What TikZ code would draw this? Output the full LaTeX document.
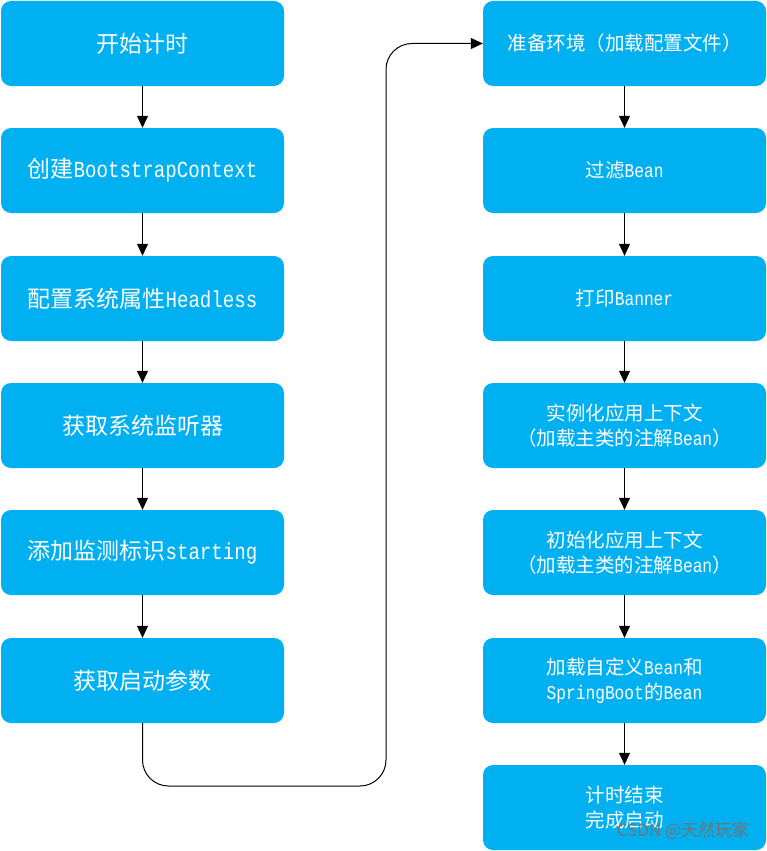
\documentclass[tikz,border=0pt]{standalone}
\usepackage{fontspec}
\setmainfont{Noto Sans CJK SC}
\newfontfamily\lat[FakeStretch=0.833]{Liberation Mono}
\usetikzlibrary{arrows.meta}
\definecolor{boxblue}{RGB}{0,176,240}
\tikzset{
  stepbox/.style={rectangle, rounded corners=10pt, fill=boxblue, text=white,
    minimum width=283pt, minimum height=85pt, inner sep=0pt, align=center},
  bigtext/.style={font=\fontsize{23}{28}\selectfont},
  smalltext/.style={font=\fontsize{19.5}{25}\selectfont},
  conn/.style={line width=1pt, -{Triangle[width=11pt,length=12pt]}}
}
\begin{document}
\begin{tikzpicture}[x=1pt,y=-1pt]
\useasboundingbox (0,0) rectangle (767,851);
% left column
\node[stepbox,bigtext] (l1) at (142.5,43.5) {开始计时};
\node[stepbox,bigtext] (l2) at (142.5,170.5) {创建{\lat BootstrapContext}};
\node[stepbox,bigtext] (l3) at (142.5,298.5) {配置系统属性{\lat Headless}};
\node[stepbox,bigtext] (l4) at (142.5,425.5) {获取系统监听器};
\node[stepbox,bigtext] (l5) at (142.5,552.5) {添加监测标识{\lat starting}};
\node[stepbox,bigtext] (l6) at (142.5,680.5) {获取启动参数};
% right column
\node[stepbox,smalltext] (r1) at (624.5,43.5) {准备环境（加载配置文件）};
\node[stepbox,smalltext] (r2) at (624.5,170.5) {过滤{\lat Bean}};
\node[stepbox,smalltext] (r3) at (624.5,298.5) {打印{\lat Banner}};
\node[stepbox,smalltext] (r4) at (624.5,425.5) {实例化应用上下文\\（加载主类的注解{\lat Bean}）};
\node[stepbox,smalltext] (r5) at (624.5,552.5) {初始化应用上下文\\（加载主类的注解{\lat Bean}）};
\node[stepbox,smalltext] (r6) at (624.5,680.5) {加载自定义{\lat Bean}和\\{\lat SpringBoot}的{\lat Bean}};
\node[stepbox,smalltext] (r7) at (624.5,807.5) {计时结束\\完成启动};
% arrows
\draw[conn] (l1) -- (l2);
\draw[conn] (l2) -- (l3);
\draw[conn] (l3) -- (l4);
\draw[conn] (l4) -- (l5);
\draw[conn] (l5) -- (l6);
\draw[conn] (r1) -- (r2);
\draw[conn] (r2) -- (r3);
\draw[conn] (r3) -- (r4);
\draw[conn] (r4) -- (r5);
\draw[conn] (r5) -- (r6);
\draw[conn] (r6) -- (r7);
\coordinate (c1) at (386,786);
\draw[conn, rounded corners=26pt] (l6.south) |- (c1) |- (r1.west);
% watermark
\node[text=black!55, font=\fontsize{17}{20}\selectfont, inner sep=0pt] (wm) at (683,831) {CSDN @天然玩家};
\end{tikzpicture}
\end{document}
